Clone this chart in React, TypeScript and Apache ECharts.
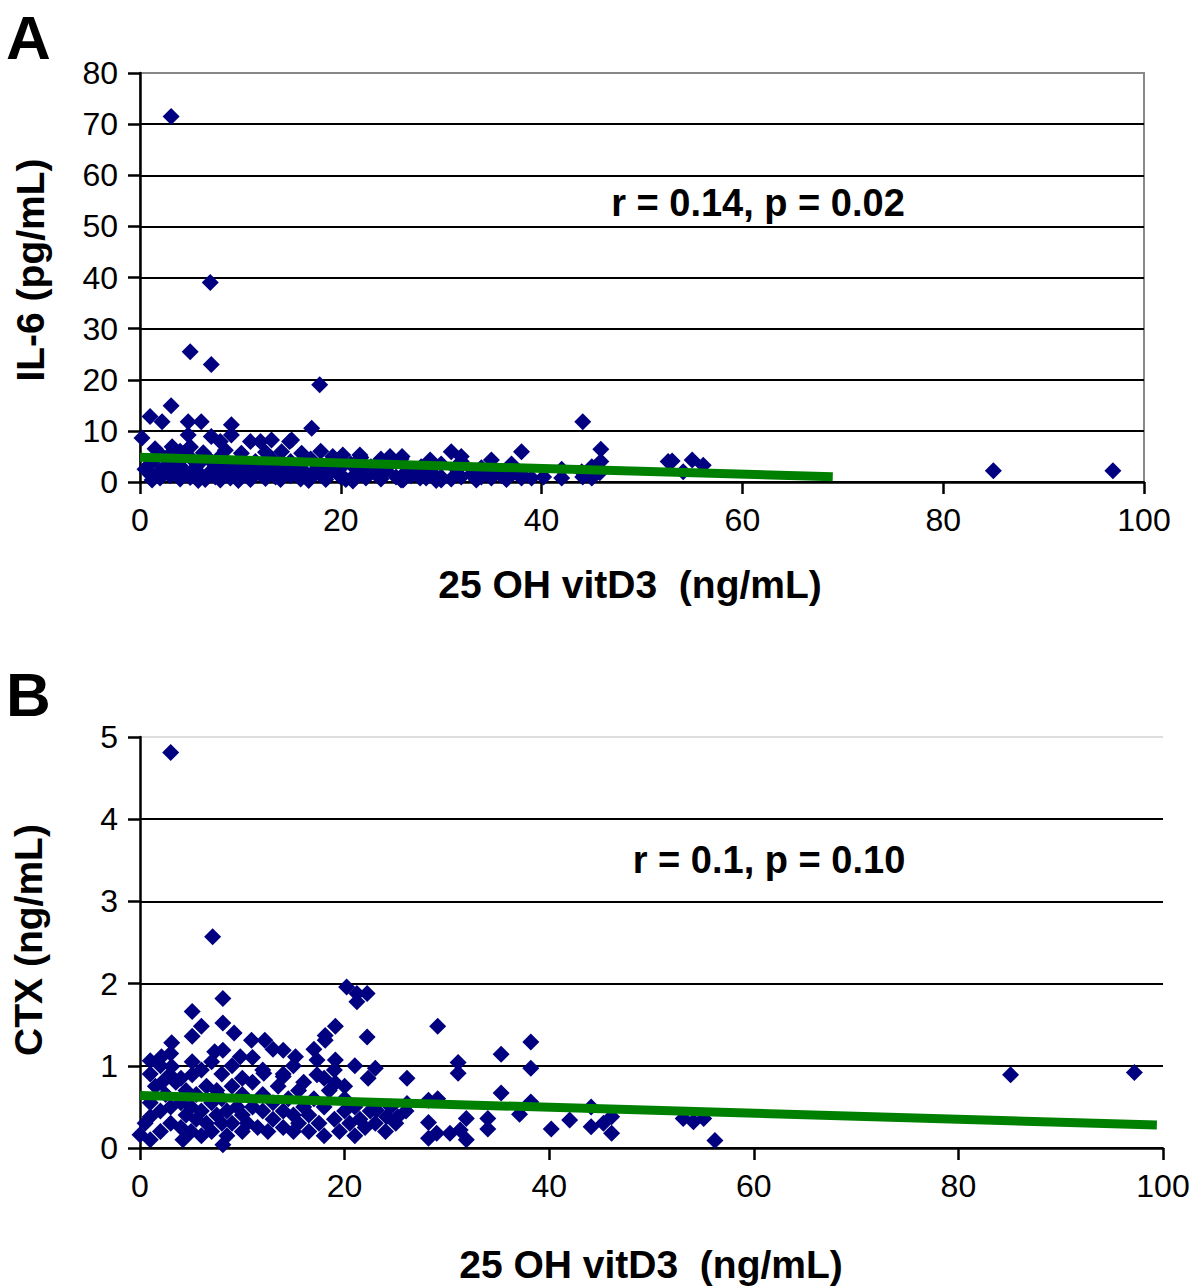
import React, { useEffect, useRef } from "react";
import * as echarts from "echarts";

// Panel A: 25 OH vitD3 (ng/mL) vs IL-6 (pg/mL)
const il6Points: number[][] = [
  [3.1, 71.5], [7, 39], [5, 25.5], [7.1, 23], [17.9, 19],
  [0.2, 8.6], [1, 12.8], [2.2, 11.8], [3.1, 14.9], [4.8, 11.8], [6.1, 11.8], [4.8, 9.2],
  [3.2, 6.9], [5, 6.9], [7.1, 8.9], [8, 7.9], [9.1, 11.2], [9.1, 9.2], [11, 7.9], [12, 7.9],
  [13.1, 8.2], [14.9, 7.9], [17.1, 10.5], [14.1, 5.9], [10.1, 5.6], [6.3, 5.7], [15.1, 8.2],
  [16.1, 5.6], [19.2, 5], [20.2, 5.3], [21.9, 5.3],
  [44.1, 11.8], [38, 5.9], [45.9, 6.4], [45.9, 4], [31, 5.9], [32, 5], [35, 4.3], [28.9, 4.3],
  [24.9, 5], [26.1, 5], [52.6, 4], [26.2, 0.4], [27.9, 0.8], [30, 0.4], [32, 1], [34, 1],
  [35, 0.8], [38, 0.8], [40.2, 1], [42, 0.8], [44.1, 1], [45, 0.8], [45.8, 1.8], [37.2, 1.8],
  [53, 4.1], [55, 4.3], [56.1, 3.3], [54.1, 2], [85, 2.2], [96.9, 2.2],
  [0.5, 2.5], [1, 1.5], [1, 3.5], [1.5, 4.5], [2, 0.8], [2, 2.2], [2.5, 3], [3, 1.2], [3, 4],
  [3, 5.5], [3.5, 2.5], [4, 0.6], [4, 3.2], [4.5, 1.8], [5, 4.8], [5, 0.9], [5.5, 2.8], [6, 1.5],
  [6, 3.8], [6.5, 0.5], [6.5, 5.2], [7, 2], [7, 4.2], [7.5, 1], [7.5, 3], [8, 0.4], [8, 2.6],
  [8, 5], [8.5, 1.6], [9, 3.5], [9, 0.8], [9.5, 2.2], [10, 4.5], [10, 1.2], [10.5, 3], [11, 0.5],
  [11, 2], [11.5, 4], [12, 1.5], [12, 3.2], [12.5, 0.7], [13, 2.5], [13, 4.8], [13.5, 1],
  [14, 3.5], [14, 0.5], [14.5, 2], [15, 4], [15, 1.2], [15.5, 2.8], [16, 0.6], [16, 3.6],
  [16.5, 1.8], [17, 4.5], [17, 0.9], [17.5, 2.4], [18, 1.3], [18, 3.2], [18.5, 0.5], [19, 2],
  [19.5, 4], [20, 1], [20, 2.8], [20.5, 0.5], [21, 3.5], [21.5, 1.6], [22, 2.5], [22, 4.8],
  [22.5, 0.8], [23, 3], [23.5, 1.5], [24, 4.5], [24, 0.6], [24.5, 2.2], [25, 3.6], [25.5, 1],
  [26, 4.5], [26, 0.4], [26.5, 2], [27, 1.2], [28, 3], [28.5, 0.8], [29, 2], [30, 3.5], [30, 1],
  [31, 0.6], [31.5, 2.5], [32, 4], [33, 1.5], [34, 2.8], [35, 2], [36, 1.2], [37, 3.5],
  [38, 1.5], [39, 0.8], [42, 2.5], [44, 2], [45, 3], [2, 5.5], [4, 6], [5, 6.8], [8.5, 6.2],
  [12.5, 5.8], [18, 6], [1.5, 6.5],
  [1.2, 0.4], [3.8, 1.6], [5.8, 0.3], [9.8, 0.3], [13.8, 2.2], [16.8, 0.3], [21.2, 0.2],
  [23.8, 2.6], [27.5, 2.2], [29.5, 0.3], [33.5, 0.4], [36.5, 0.5]
];

// Panel B: 25 OH vitD3 (ng/mL) vs CTX (ng/mL)
const ctxPoints: number[][] = [
  [3, 4.81], [7.1, 2.57],
  [8.1, 1.82], [5.1, 1.66], [6, 1.48], [5.1, 1.36], [3.1, 1.28], [8.1, 1.52], [9.2, 1.4],
  [10.9, 1.31], [12.2, 1.31], [7.3, 1.17], [8.1, 1.19], [9.8, 1.11], [1, 1.06], [2.1, 1.11],
  [3.1, 0.99], [5.1, 1.05], [14, 1.19], [15.2, 1.11], [17.3, 1.07], [19.1, 1.07], [18.1, 1.31],
  [18.1, 1.37], [19.1, 1.48], [20.2, 1.96], [21.2, 1.88], [22.2, 1.88], [21.2, 1.78],
  [22.2, 1.35], [23, 0.97], [22.3, 0.85], [2.1, 0.79], [2.9, 0.89], [5.1, 0.89], [12.1, 0.91],
  [14, 0.87], [17.3, 0.89], [19.1, 0.79], [0, 0.16], [1, 0.1], [4.2, 0.1], [8.1, 0.04], [1, 0.38],
  [26.1, 0.85], [29.1, 1.48], [31.1, 1.04], [31.1, 0.91], [35.3, 1.14], [38.2, 1.29], [38.2, 0.97],
  [35.3, 0.67], [38.2, 0.56], [37.1, 0.41], [34, 0.36], [34, 0.23], [31.9, 0.36], [31.9, 0.1],
  [28.2, 0.31], [28.2, 0.12], [29, 0.18], [30.3, 0.18], [31.3, 0.22], [29.1, 0.6], [28.2, 0.58],
  [25.2, 0.38], [40.2, 0.23], [42, 0.34], [44.1, 0.5], [44.1, 0.26], [45.3, 0.3], [46.1, 0.38],
  [46.1, 0.18], [26.1, 0.54], [23.1, 0.46], [24.1, 0.38],
  [53.1, 0.36], [54.1, 0.32], [55.1, 0.36], [56.2, 0.09], [85.1, 0.89], [97.2, 0.92],
  [0.5, 0.3], [1, 0.55], [1.5, 0.75], [2, 0.2], [2, 0.45], [2.5, 0.65], [3, 0.3], [3, 0.5],
  [3.5, 0.8], [4, 0.25], [4, 0.55], [4.5, 0.4], [4.5, 0.7], [5, 0.2], [5, 0.5], [5.5, 0.35],
  [5.5, 0.65], [6, 0.15], [6, 0.45], [6.5, 0.3], [6.5, 0.75], [7, 0.2], [7, 0.55], [7.5, 0.4],
  [7.5, 0.7], [8, 0.3], [8, 0.6], [8.5, 0.15], [8.5, 0.45], [9, 0.3], [9, 0.75], [9.5, 0.5],
  [10, 0.2], [10, 0.4], [10, 0.65], [10.5, 0.3], [11, 0.5], [11, 0.8], [11.5, 0.25], [12, 0.45],
  [12, 0.65], [12.5, 0.2], [13, 0.35], [13, 0.55], [13.5, 0.75], [14, 0.25], [14, 0.45],
  [14.5, 0.6], [15, 0.2], [15, 0.4], [15.5, 0.3], [15.5, 0.7], [16, 0.5], [16.5, 0.2],
  [16.5, 0.4], [17, 0.6], [17.5, 0.3], [18, 0.15], [18, 0.5], [18.5, 0.7], [19, 0.35],
  [19.5, 0.2], [20, 0.45], [20, 0.6], [20.5, 0.3], [21, 0.15], [21, 0.5], [21.5, 0.35],
  [22, 0.25], [22.5, 0.45], [23, 0.3], [24, 0.2], [24.5, 0.5], [25, 0.3], [26, 0.45],
  [1, 0.9], [2, 1.0], [3, 1.15], [4, 0.85], [6, 0.95], [7, 1.05], [8, 0.9], [9, 1.0], [10, 0.85],
  [11, 1.1], [12, 0.95], [13, 1.2], [14, 0.9], [15, 1.0], [16, 0.8], [17, 1.2], [18, 0.85],
  [19, 0.95], [20, 0.75], [21, 1.0]
];

// Regression lines
const trendA: number[][] = [[0, 4.83], [69, 1.04]];
const trendB: number[][] = [[0, 0.64], [99.4, 0.28]];

// Axis settings
const xTicks = { min: 0, max: 100, interval: 20 };
const yTicksA = { min: 0, max: 80, interval: 10 };
const yTicksB = { min: 0, max: 5, interval: 1 };

const xTitle = "25 OH vitD3  (ng/mL)";
const yTitleA = "IL-6 (pg/mL)";
const yTitleB = "CTX (ng/mL)";
const statA = "r = 0.14, p = 0.02";
const statB = "r = 0.1, p = 0.10";

const FONT = "'Liberation Sans', Arial, Helvetica, sans-serif";

export default function App() {
  const ref = useRef<HTMLDivElement>(null);

  useEffect(() => {
    if (!ref.current) return;
    const chart = echarts.init(ref.current, null, { renderer: "svg" });

    const xLabel = { color: "#000", fontSize: 32, fontFamily: FONT, margin: 22 };
    const yLabel = { color: "#000", fontSize: 32, fontFamily: FONT, margin: 22 };
    const axisLine = { show: true, lineStyle: { color: "#000", width: 2.5 } };
    const axisTick = { show: true, inside: false, length: 12, lineStyle: { color: "#000", width: 2.5 } };

    const bold = (size: number) => `bold ${size}px ${FONT}`;
    const dot = { color: "#000080", opacity: 1 };

    chart.setOption({
      animation: false,
      backgroundColor: "#fff",
      grid: [
        { left: 140, top: 73, width: 1004, height: 409, show: true, borderColor: "#888", borderWidth: 2, backgroundColor: "transparent" },
        { left: 140, top: 737, width: 1023, height: 411, show: false }
      ],
      xAxis: [
        { type: "value", gridIndex: 0, ...xTicks, axisLine, axisTick, axisLabel: xLabel, splitLine: { show: false } },
        { type: "value", gridIndex: 1, ...xTicks, axisLine, axisTick, axisLabel: xLabel, splitLine: { show: false } }
      ],
      yAxis: [
        {
          type: "value", gridIndex: 0, ...yTicksA, axisLine, axisTick, axisLabel: yLabel,
          splitLine: { show: true, lineStyle: { color: ["#000", "#000", "#000", "#000", "#000", "#000", "#000", "#000", "#888"], width: 2 } }
        },
        {
          type: "value", gridIndex: 1, ...yTicksB, axisLine, axisTick, axisLabel: yLabel,
          splitLine: { show: true, lineStyle: { color: ["#000", "#000", "#000", "#000", "#000", "#ddd"], width: 2 } }
        }
      ],
      series: [
        { type: "scatter", xAxisIndex: 0, yAxisIndex: 0, data: il6Points, symbol: "diamond", symbolSize: 17, itemStyle: dot, z: 3 },
        { type: "line", xAxisIndex: 0, yAxisIndex: 0, data: trendA, symbol: "none", lineStyle: { color: "#008000", width: 9 }, z: 5 },
        { type: "scatter", xAxisIndex: 1, yAxisIndex: 1, data: ctxPoints, symbol: "diamond", symbolSize: 17, itemStyle: dot, z: 3 },
        { type: "line", xAxisIndex: 1, yAxisIndex: 1, data: trendB, symbol: "none", lineStyle: { color: "#008000", width: 9 }, z: 5 }
      ],
      graphic: [
        { type: "text", x: 6, y: 37, style: { text: "A", font: bold(62), fill: "#000", textAlign: "left", textVerticalAlign: "middle" } },
        { type: "text", x: 6, y: 694, style: { text: "B", font: bold(62), fill: "#000", textAlign: "left", textVerticalAlign: "middle" } },
        { type: "text", x: 30, y: 270, rotation: Math.PI / 2, style: { text: yTitleA, font: bold(39), fill: "#000", textAlign: "center", textVerticalAlign: "middle" } },
        { type: "text", x: 28, y: 940, rotation: Math.PI / 2, style: { text: yTitleB, font: bold(39), fill: "#000", textAlign: "center", textVerticalAlign: "middle" } },
        { type: "text", x: 630, y: 584, style: { text: xTitle, font: bold(39), fill: "#000", textAlign: "center", textVerticalAlign: "middle" } },
        { type: "text", x: 651, y: 1264, style: { text: xTitle, font: bold(39), fill: "#000", textAlign: "center", textVerticalAlign: "middle" } },
        { type: "text", x: 758, y: 203, style: { text: statA, font: bold(38), fill: "#000", textAlign: "center", textVerticalAlign: "middle" } },
        { type: "text", x: 769, y: 860, style: { text: statB, font: bold(38), fill: "#000", textAlign: "center", textVerticalAlign: "middle" } }
      ]
    });

    return () => chart.dispose();
  }, []);

  return (
    <div
      ref={ref}
      style={{ position: "absolute", left: 0, top: 0, width: 1200, height: 1287, background: "#fff" }}
    />
  );
}
